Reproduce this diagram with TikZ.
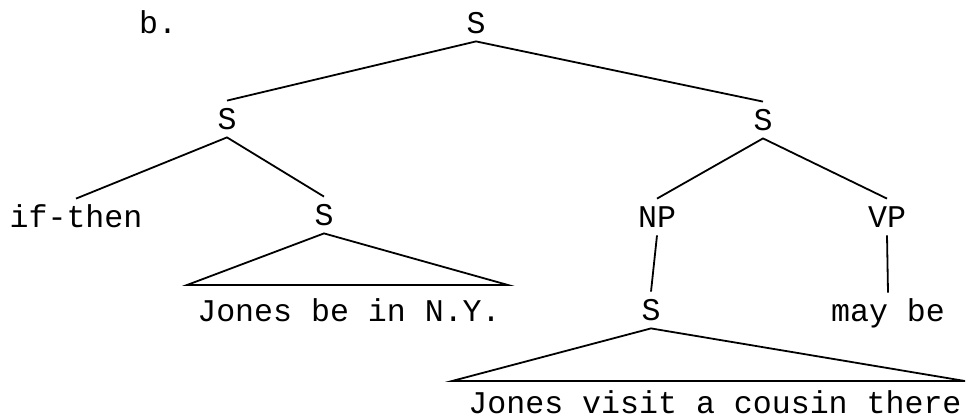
\documentclass[tikz,border=0pt]{standalone}
\usepackage{fontspec}
\setmonofont{Liberation Mono}
\tikzset{
  lbl/.style={anchor=base, inner xsep=1pt, inner ysep=4pt, text height=10pt, text depth=0pt,
    font=\ttfamily\fontsize{15.8}{18}\selectfont},
  branch/.style={line width=0.9pt}
}

\begin{document}
\begin{tikzpicture}[x=0.5pt,y=-0.5pt]
  \useasboundingbox (0,0) rectangle (968,419);
  \node[lbl] (ex) at (158,33) {b.};
  \node[lbl] (s0) at (476,33) {S};
  \node[lbl] (s1) at (227,129) {S};
  \node[lbl] (s2) at (763,130) {S};
  \node[lbl] (ifthen) at (76,227) {if-then};
  \node[lbl] (s3) at (324,225) {S};
  \node[lbl] (np) at (657,227) {NP};
  \node[lbl] (vp) at (887,227) {VP};
  \node[lbl] (s4) at (651,320) {S};
  \node[lbl] (maybe) at (888,321) {may be};
  \node[lbl] (jones1) at (349,321) {Jones be in N.Y.};
  \node[lbl,inner ysep=1pt] (jones2) at (715,413) {Jones visit a cousin there};
  \coordinate (b1l) at (187,285);
  \coordinate (b1r) at (508,285);
  \coordinate (b2l) at (452,381);
  \coordinate (b2r) at (965,381);
  \draw[branch] (s1.north) -- (s0.south) -- (s2.north);
  \draw[branch] (ifthen.north) -- (s1.south) -- (s3.north);
  \draw[branch] (np.north) -- (s2.south) -- (vp.north);
  \draw[branch] (np.south) -- (s4.north);
  \draw[branch] (vp.south) -- (maybe.north);
  \draw[branch] (s3.south) -- (b1l) -- (b1r) -- cycle;
  \draw[branch] (s4.south) -- (b2l) -- (b2r) -- cycle;
\end{tikzpicture}
\end{document}
